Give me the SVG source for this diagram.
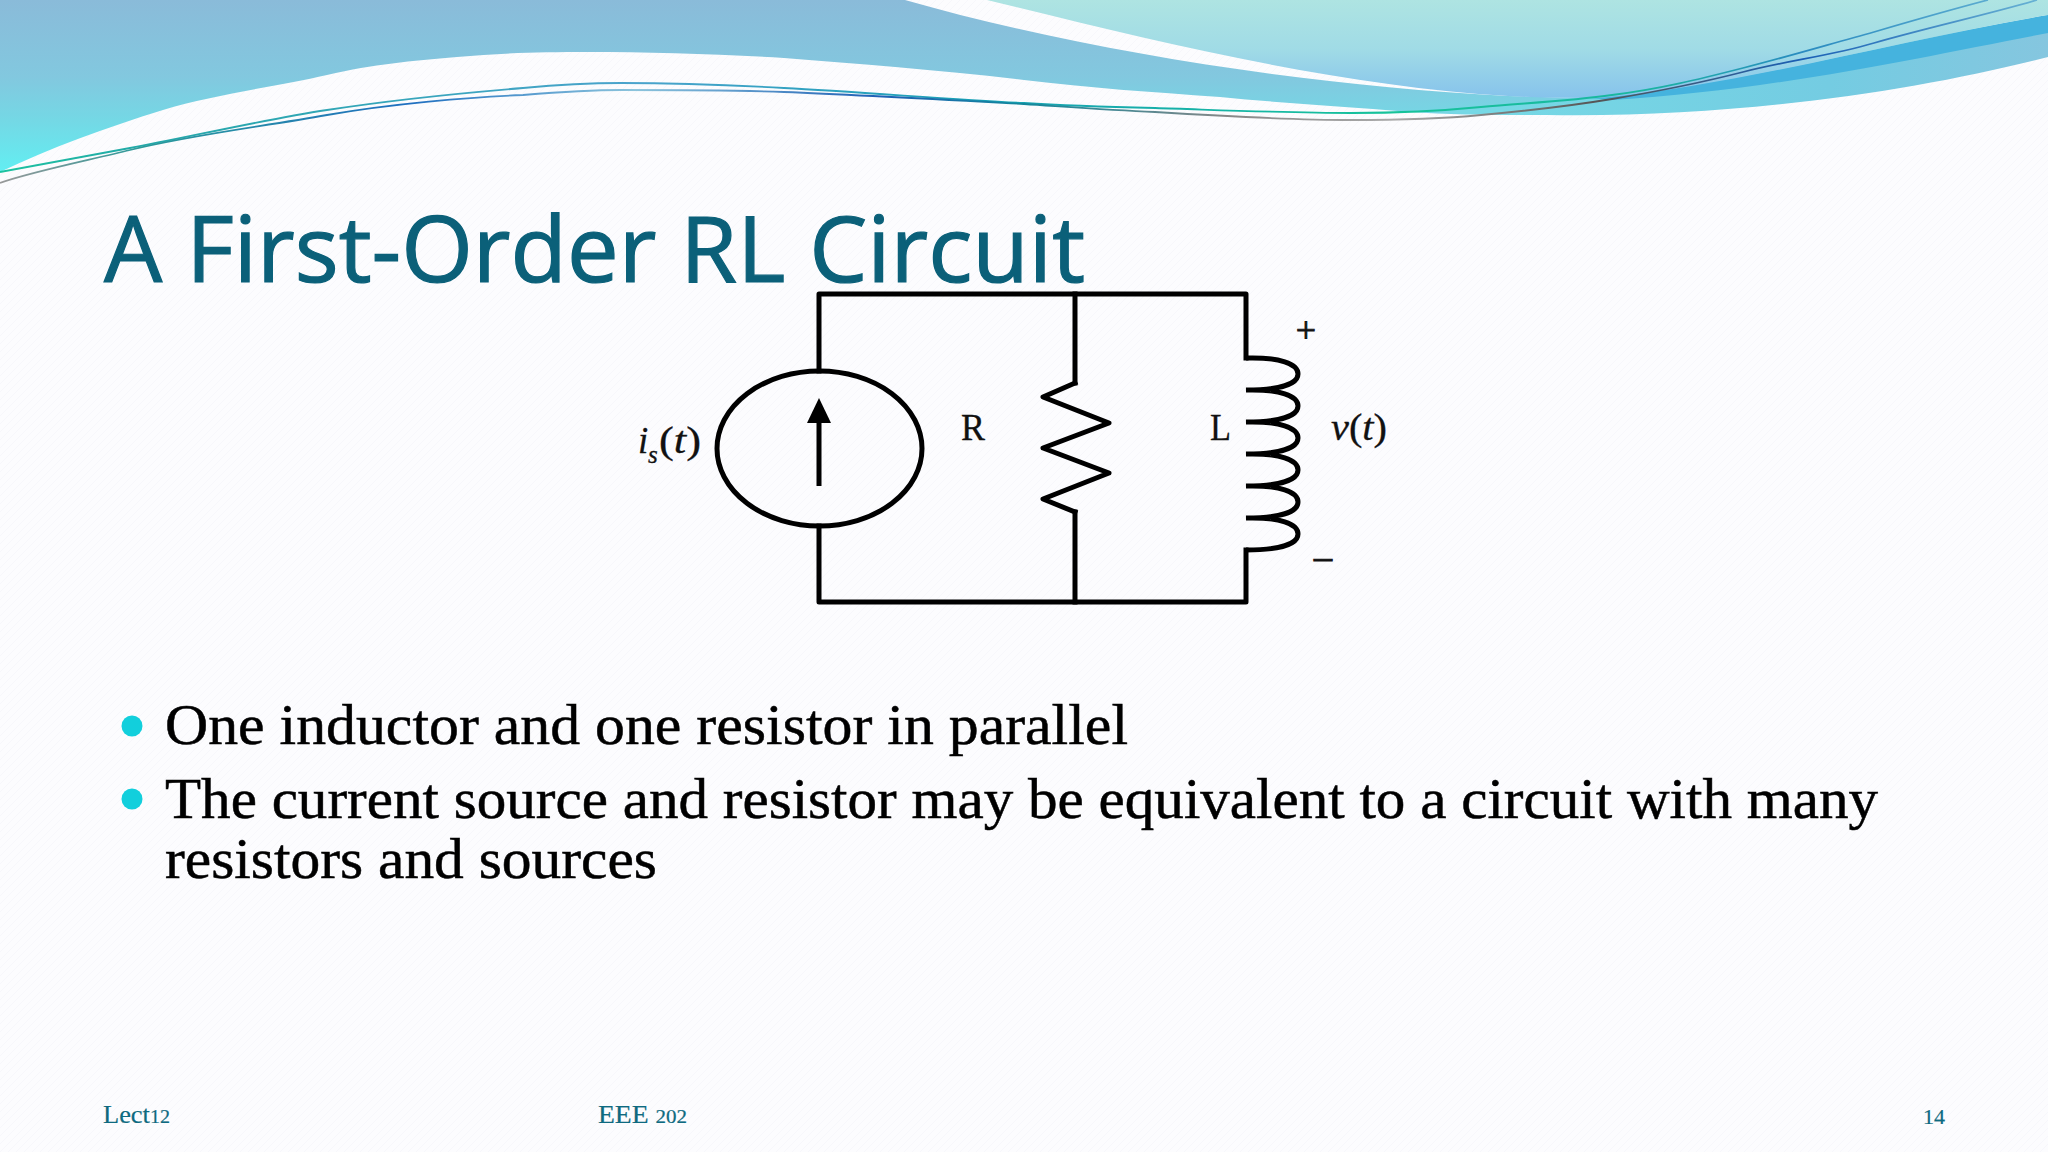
<svg xmlns="http://www.w3.org/2000/svg" width="2048" height="1152" viewBox="0 0 2048 1152">
<style>
.w{fill:none;stroke:#000;stroke-width:5;stroke-linecap:square;stroke-linejoin:round}
.lbl{font-family:"Liberation Serif",serif;font-size:37px;fill:#111;stroke:#111;stroke-width:.3}
.it{font-style:italic}
.body{font-family:"Liberation Serif",serif;font-size:56px;fill:#000;stroke:#000;stroke-width:.5}
.foot{font-family:"Liberation Serif",serif;font-size:25px;fill:#0e6a80;stroke:#0e6a80;stroke-width:.2}
.dot{fill:#12cfdc}
</style>
<defs>
<linearGradient id="gA" gradientUnits="userSpaceOnUse" x1="0" y1="0" x2="0" y2="172"><stop offset="0" stop-color="#8abbd9"/><stop offset=".45" stop-color="#82c8df"/><stop offset=".7" stop-color="#74d8e5"/><stop offset="1" stop-color="#62eef2"/></linearGradient>
<linearGradient id="gL" gradientUnits="userSpaceOnUse" x1="0" y1="0" x2="0" y2="100"><stop offset="0" stop-color="#aee4e2"/><stop offset=".5" stop-color="#a0dbe6"/><stop offset="1" stop-color="#85c2ec"/></linearGradient>
<linearGradient id="gR" gradientUnits="userSpaceOnUse" x1="1500" y1="0" x2="2048" y2="0"><stop offset="0" stop-color="#76d8e5"/><stop offset=".6" stop-color="#74cce2"/><stop offset="1" stop-color="#85c6df"/></linearGradient>
<linearGradient id="l1" gradientUnits="userSpaceOnUse" x1="0" y1="0" x2="2048" y2="0"><stop offset="0" stop-color="#1cc3a0"/><stop offset=".07" stop-color="#22a8a8"/><stop offset=".31" stop-color="#4aa3cc"/><stop offset=".48" stop-color="#17a0b5"/><stop offset=".68" stop-color="#16c39a"/><stop offset=".8" stop-color="#1ab6a0"/><stop offset=".88" stop-color="#2a8bc0"/><stop offset="1" stop-color="#6ab5d5"/></linearGradient>
<linearGradient id="l2" gradientUnits="userSpaceOnUse" x1="0" y1="0" x2="2048" y2="0"><stop offset="0" stop-color="#999"/><stop offset=".07" stop-color="#2a9a9a"/><stop offset=".2" stop-color="#1f6fc0"/><stop offset=".31" stop-color="#8cc4dc"/><stop offset=".43" stop-color="#1e5fb5"/><stop offset=".5" stop-color="#12889c"/><stop offset=".6" stop-color="#888"/><stop offset=".68" stop-color="#aaa"/><stop offset=".78" stop-color="#555"/><stop offset=".88" stop-color="#1a5fb5"/><stop offset="1" stop-color="#6ab5d5"/></linearGradient>
<pattern id="tex" width="8" height="8" patternUnits="userSpaceOnUse"><path d="M0 8L8 0" stroke="#f7f7fb" stroke-width="1"/></pattern>
</defs>
<rect width="2048" height="1152" fill="#fcfcfe"/>
<rect width="2048" height="1152" fill="url(#tex)"/>

<g id="header">
<path d="M0 0H905C1080 50 1300 85 1508 96L1650 100L1547 115C1500 115 1450 115 1410 112C1340 106 1280 103 1220 97C1150 92 1090 88 1024 80C940 70 860 64 784 58C720 54 650 52 588 52C540 52 500 53 457 57C410 61 375 64 327 75C280 86 215 94 163 110C105 128 50 148 0 172Z" fill="url(#gA)"/>
<path d="M1440 112C1480 115 1510 115 1547 115C1740 118 1920 90 2048 57V15L1600 97Z" fill="url(#gR)"/>
<path d="M1590 98C1740 85 1900 40 2048 15V33C1930 55 1780 90 1612 100Z" fill="#45b3de"/>
<path d="M987 0C1150 40 1330 85 1508 96C1540 98 1570 98 1600 98C1740 85 1900 40 2048 15V0Z" fill="url(#gL)"/>
<path d="M0 172C22 168 75 158 130 148C185 138 261 120 327 110C392 100 474 92 523 88C555 85 590 83 621 83C675 83 730 85 784 88C860 92 960 100 1024 103C1070 106 1110 107 1155 108C1220 110 1290 113 1351 113C1400 113 1440 111 1481 107C1525 103 1570 101 1612 95C1660 89 1700 79 1743 68C1790 56 1830 44 1874 32C1915 20 1950 10 1988 0" fill="none" stroke="url(#l1)" stroke-width="1.8"/>
<path d="M0 183C30 172 90 160 130 150C190 135 260 127 327 115C390 104 470 97 523 95C560 92 590 90 621 90C680 90 730 90 784 92C860 95 950 100 1024 104C1070 107 1110 110 1155 112C1220 116 1290 120 1351 120C1400 120 1440 119 1481 115C1525 111 1570 106 1612 99C1660 91 1700 83 1743 72C1790 60 1830 56 1874 43C1930 27 1990 14 2037 0" fill="none" stroke="url(#l2)" stroke-width="1.8"/>
</g>

<text id="title" x="104" y="282" font-family="'Open Sans','Noto Sans',sans-serif" font-size="92" fill="#0b6079" stroke="#0b6079" stroke-width="1.2" textLength="981" lengthAdjust="spacingAndGlyphs">A First-Order RL Circuit</text>

<g id="connectors">
<path class="w" d="M819 371V294H1246V358"/>
<path class="w" d="M1075 294V383"/>
<path class="w" d="M819 526V602H1246V550"/>
<path class="w" d="M1075 512V602"/>
</g>

<g id="source">
<ellipse cx="819.5" cy="448.5" rx="102.5" ry="77.5" fill="none" stroke="#000" stroke-width="5"/>
<path d="M819 486V420" fill="none" stroke="#000" stroke-width="5"/>
<path d="M819 398L831 423H807Z" fill="#000"/>
<text class="lbl it" x="638" y="453">i</text><text class="lbl it" x="648" y="463" style="font-size:25px">s</text><text class="lbl" x="659" y="453" textLength="42" lengthAdjust="spacingAndGlyphs">(<tspan class="it">t</tspan>)</text>
</g>

<g id="resistor">
<path class="w" stroke-linecap="butt" d="M1075 383L1043 397L1109 423L1043 448L1109 473L1043 499L1075 512"/>
<text class="lbl" x="961" y="440" textLength="24" lengthAdjust="spacingAndGlyphs">R</text>
</g>

<g id="inductor">
<path d="M1246 358C1280 357 1298 364 1298 374C1298 384 1280 390 1246 390C1280 389 1298 396 1298 406C1298 416 1280 422 1246 422C1280 421 1298 428 1298 438C1298 448 1280 454 1246 454C1280 453 1298 460 1298 470C1298 480 1280 486 1246 486C1280 485 1298 492 1298 502C1298 512 1280 518 1246 518C1280 517 1298 524 1298 534C1298 544 1280 550 1246 550" fill="none" stroke="#000" stroke-width="5"/>
<text class="lbl" x="1210" y="440" textLength="21" lengthAdjust="spacingAndGlyphs">L</text>
<text class="lbl" x="1331" y="440" textLength="56" lengthAdjust="spacingAndGlyphs"><tspan class="it">v</tspan>(<tspan class="it">t</tspan>)</text>
<text class="lbl" x="1306" y="342" text-anchor="middle" style="font-size:36px;stroke-width:.8">+</text>
<text class="lbl" x="1323" y="569" text-anchor="middle" style="font-size:36px;stroke-width:1">–</text>
</g>

<g id="bullets">
<ellipse class="dot" cx="132" cy="726" rx="10.5" ry="10.5"/>
<ellipse class="dot" cx="132" cy="799" rx="10.5" ry="10.5"/>
<text class="body" x="165" y="744" textLength="963" lengthAdjust="spacingAndGlyphs">One inductor and one resistor in parallel</text>
<text class="body" x="165" y="818" textLength="1713" lengthAdjust="spacingAndGlyphs">The current source and resistor may be equivalent to a circuit with many</text>
<text class="body" x="165" y="878" textLength="492" lengthAdjust="spacingAndGlyphs">resistors and sources</text>
</g>

<g id="footer">
<text class="foot" x="103" y="1123" textLength="67" lengthAdjust="spacingAndGlyphs">Lect<tspan style="font-size:19px">12</tspan></text>
<text class="foot" x="598" y="1123" textLength="89" lengthAdjust="spacingAndGlyphs">EEE <tspan style="font-size:19px">202</tspan></text>
<text class="foot" x="1923" y="1124" textLength="22" lengthAdjust="spacingAndGlyphs" style="font-size:21px">14</text>
</g>
</svg>
